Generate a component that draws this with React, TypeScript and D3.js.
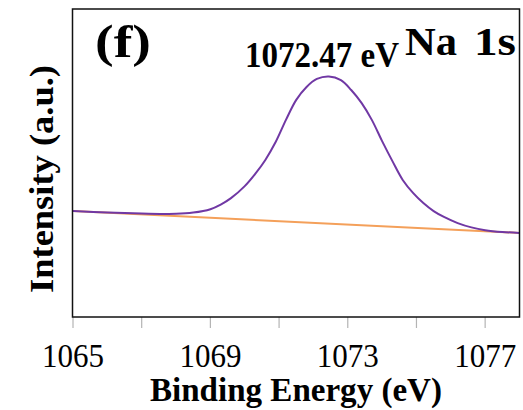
import React, { useRef, useEffect } from "react";
import * as d3 from "d3";

// Na 1s spectrum (energy in eV, intensity in a.u.)
const energy = [
  1065.0, 1066.0, 1067.0, 1068.0, 1068.5, 1069.0, 1069.3, 1069.6, 1070.0, 1070.3,
  1070.6, 1070.9, 1071.2, 1071.5, 1071.8, 1072.1, 1072.45, 1072.8, 1073.1, 1073.4,
  1073.7, 1074.0, 1074.3, 1074.6, 1074.9, 1075.2, 1075.5, 1075.8, 1076.2, 1076.6,
  1077.0, 1077.5, 1078.0,
];
const intensity = [
  34.4, 33.9, 33.6, 33.5, 33.9, 35.0, 36.5, 38.6, 42.5, 46.4,
  51.0, 56.8, 64.0, 70.5, 74.7, 77.3, 78.1, 76.9, 73.7, 69.5,
  64.0, 57.1, 50.6, 44.5, 40.3, 37.0, 34.4, 32.5, 30.5, 29.1,
  28.2, 27.6, 27.3,
];
const bgEnergy = [1065, 1078];
const bgIntensity = [34.4, 27.3];

const xTicks = [1065, 1067, 1069, 1071, 1073, 1075, 1077];
const xTickLabels = ["1065", "1069", "1073", "1077"];

const App = () => {
  const svgRef = useRef<SVGSVGElement>(null);

  useEffect(() => {
    const width = 523,
      height = 410;
    const plot = { left: 72.5, right: 519.5, top: 9, bottom: 317 };
    const font = "'Liberation Serif', 'Times New Roman', serif";

    const svg = d3.select(svgRef.current);
    svg.selectAll("*").remove();
    svg.attr("width", width).attr("height", height);

    const x = d3.scaleLinear().domain([1065, 1078]).range([73, plot.right]);
    const y = d3.scaleLinear().domain([0, 100]).range([plot.bottom, plot.top]);

    // ticks below the frame
    svg
      .append("g")
      .selectAll("line")
      .data(xTicks)
      .enter()
      .append("line")
      .attr("x1", (d) => x(d))
      .attr("x2", (d) => x(d))
      .attr("y1", plot.bottom)
      .attr("y2", plot.bottom + 11)
      .attr("stroke", "#b4b4b4")
      .attr("stroke-width", 1.2);

    // tick labels
    svg
      .append("g")
      .selectAll("text")
      .data(xTickLabels)
      .enter()
      .append("text")
      .attr("x", (d) => x(+d))
      .attr("y", 367)
      .attr("text-anchor", "middle")
      .attr("font-family", font)
      .attr("font-size", 34)
      .attr("textLength", 62)
      .attr("lengthAdjust", "spacingAndGlyphs")
      .text((d) => d);

    // baseline (background)
    const bgLine = d3
      .line<number>()
      .x((d, i) => x(bgEnergy[i]))
      .y((d) => y(d));
    svg
      .append("path")
      .attr("d", bgLine(bgIntensity))
      .attr("fill", "none")
      .attr("stroke", "#f4a05a")
      .attr("stroke-width", 2);

    // fitted peak
    const peakLine = d3
      .line<number>()
      .x((d, i) => x(energy[i]))
      .y((d) => y(d))
      .curve(d3.curveCatmullRom.alpha(0.5));
    svg
      .append("path")
      .attr("d", peakLine(intensity))
      .attr("fill", "none")
      .attr("stroke", "#7038a4")
      .attr("stroke-width", 2);

    // frame
    svg
      .append("rect")
      .attr("x", plot.left)
      .attr("y", plot.top)
      .attr("width", plot.right - plot.left)
      .attr("height", plot.bottom - plot.top)
      .attr("fill", "none")
      .attr("stroke", "#111")
      .attr("stroke-width", 1.5);

    const label = (
      txt: string,
      tx: number,
      ty: number,
      size: number,
      len: number | null,
      anchor = "start"
    ) => {
      const t = svg
        .append("text")
        .attr("x", tx)
        .attr("y", ty)
        .attr("text-anchor", anchor)
        .attr("font-family", font)
        .attr("font-weight", "bold")
        .attr("font-size", size)
        .text(txt);
      if (len) t.attr("textLength", len).attr("lengthAdjust", "spacingAndGlyphs");
      return t;
    };

    label("(f)", 95, 57, 46, 56);
    label("1072.47 eV", 245, 67, 35, 154);
    label("Na", 405, 55, 40, 52);
    label("1s", 516, 55, 40, 42, "end");
    label("Binding Energy (eV)", 150, 401, 34, 292);

    svg
      .append("text")
      .attr("transform", "translate(53,293) rotate(-90)")
      .attr("font-family", font)
      .attr("font-weight", "bold")
      .attr("font-size", 34)
      .attr("textLength", 228)
      .attr("lengthAdjust", "spacingAndGlyphs")
      .text("Intensity (a.u.)");
  }, []);

  return (
    <svg
      ref={svgRef}
      style={{ position: "absolute", left: 0, top: 0, background: "#fff" }}
    ></svg>
  );
};

export default App;
